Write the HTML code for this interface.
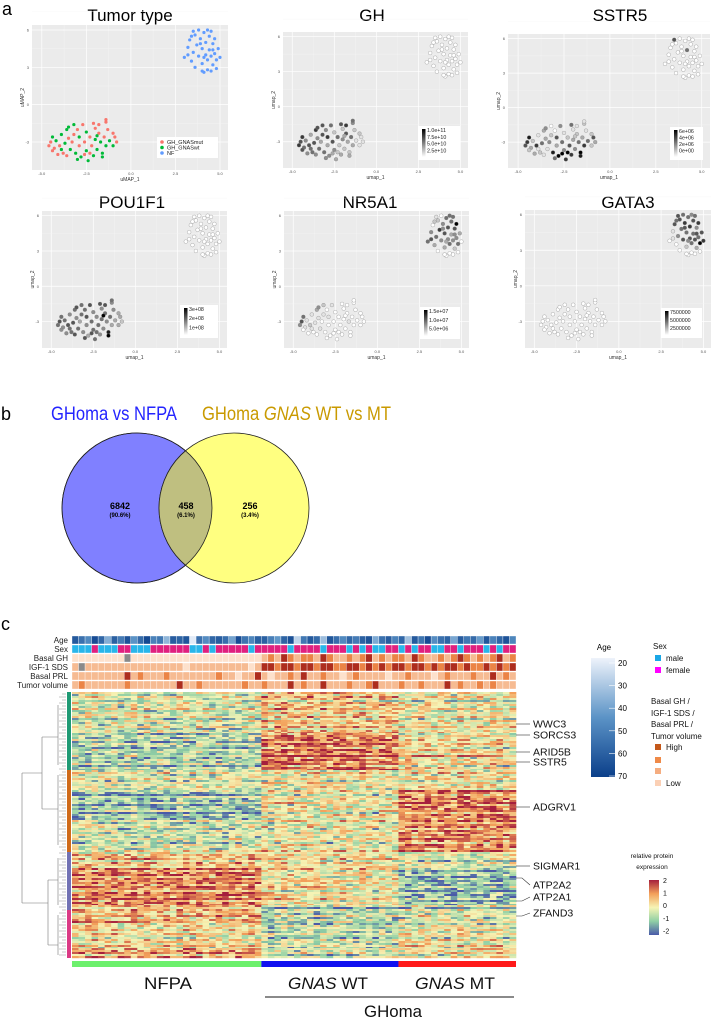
<!DOCTYPE html>
<html><head><meta charset="utf-8"><style>
html,body{margin:0;padding:0;background:#fff;}
svg{display:block;font-family:"Liberation Sans",sans-serif;}
</style></head><body>
<svg id="fig" width="712" height="1019" viewBox="0 0 712 1019" xmlns="http://www.w3.org/2000/svg">
<defs>
<linearGradient id="gBW" x1="0" y1="0" x2="0" y2="1"><stop offset="0" stop-color="#000"/><stop offset="1" stop-color="#fff"/></linearGradient>
<linearGradient id="gAge" x1="0" y1="0" x2="0" y2="1"><stop offset="0" stop-color="#eef3fb"/><stop offset="0.5" stop-color="#5b93c6"/><stop offset="1" stop-color="#0b3f8a"/></linearGradient>
<linearGradient id="gExp" x1="0" y1="0" x2="0" y2="1"><stop offset="0" stop-color="#a51f3d"/><stop offset="0.25" stop-color="#f3a05a"/><stop offset="0.5" stop-color="#f6f4b5"/><stop offset="0.75" stop-color="#8fcfa5"/><stop offset="1" stop-color="#4a5aa8"/></linearGradient>
<clipPath id="vennClip"><circle cx="137" cy="508" r="75"/></clipPath>
</defs>
<text x="2" y="15" font-size="18">a</text>
<text x="1" y="420" font-size="18">b</text>
<text x="1" y="630" font-size="18">c</text>
<g id="umap"></g>
<g id="venn">
<text x="51" y="420" font-size="19" fill="#2424ff" textLength="126" lengthAdjust="spacingAndGlyphs">GHoma vs NFPA</text>
<text x="202" y="420" font-size="19" fill="#c99a00" textLength="189" lengthAdjust="spacingAndGlyphs">GHoma <tspan font-style="italic">GNAS</tspan> WT vs MT</text>
<circle cx="137" cy="508" r="75" fill="#8080ff" stroke="#222" stroke-width="0.8"/>
<circle cx="234" cy="508" r="75" fill="#ffff80" stroke="#222" stroke-width="0.8"/>
<circle cx="234" cy="508" r="75" fill="#bfbf80" stroke="#222" stroke-width="0.8" clip-path="url(#vennClip)"/>
<circle cx="137" cy="508" r="75" fill="none" stroke="#222" stroke-width="0.8"/>
<g font-weight="bold" text-anchor="middle">
<text x="120" y="509" font-size="9">6842</text><text x="120" y="517" font-size="6">(90.6%)</text>
<text x="186" y="509" font-size="9">458</text><text x="186" y="517" font-size="6">(6.1%)</text>
<text x="250" y="509" font-size="9">256</text><text x="250" y="517" font-size="6">(3.4%)</text>
</g>
</g>
<g id="hm"></g>
</svg>
<script>
// ---------- UMAP data ----------
const ghPts=[[-4.6,-3.3],[-4.5,-3.0],[-4.4,-2.6],[-4.3,-3.5],[-4.2,-2.9],[-4.0,-3.3],[-3.9,-2.4],[-3.8,-3.9],[-3.7,-3.1],[-3.6,-2.0],[-3.5,-1.8],[-3.5,-2.7],[-3.4,-3.6],[-3.3,-3.0],[-3.2,-2.4],[-3.1,-3.9],[-3.0,-2.0],[-2.9,-2.6],[-2.9,-3.3],[-2.8,-4.2],[-2.7,-1.6],[-2.6,-3.0],[-2.5,-2.2],[-2.5,-3.7],[-2.4,-4.5],[-2.3,-2.6],[-2.2,-3.3],[-2.1,-1.5],[-2.1,-4.1],[-2.0,-2.8],[-1.9,-3.6],[-1.8,-1.6],[-1.8,-2.3],[-1.7,-3.0],[-1.6,-3.9],[-1.5,-2.6],[-1.4,-1.4],[-1.4,-3.3],[-1.3,-2.0],[-1.2,-2.9],[-1.0,-2.3],[-0.9,-2.6],[-0.8,-3.0],[-1.6,-4.2],[-3.9,-3.6],[-4.1,-4.0],[-2.6,-4.0],[-1.0,-3.3],[-3.2,-1.6],[-2.0,-1.9],[-1.4,-1.2],[-3.0,-4.4],[-2.3,-3.9],[-4.4,-3.7],[-3.6,-4.1],[-1.9,-2.5]];
const ghType=['m','m','w','m','w','m','w','m','w','w','w','m','w','m','m','w','m','w','m','w','m','m','w','w','w','m','m','m','w','w','w','m','m','w','w','m','m','w','m','w','m','m','m','w','w','m','m','w','w','m','m','w','m','m','m','w'];
const nfPts=[[3.0,3.8],[3.2,4.6],[3.3,5.2],[3.4,3.5],[3.5,4.2],[3.6,5.6],[3.6,3.0],[3.7,4.8],[3.8,3.9],[3.8,6.0],[3.9,5.3],[4.0,4.5],[4.0,3.3],[4.1,2.6],[4.1,5.8],[4.2,4.0],[4.2,5.0],[4.3,3.6],[4.3,2.8],[4.4,5.5],[4.4,4.4],[4.5,3.9],[4.5,2.7],[4.6,4.9],[4.6,3.2],[4.7,5.3],[4.7,4.1],[4.8,3.6],[4.9,4.5],[5.0,3.8],[4.0,2.7],[3.5,5.9],[4.3,6.0],[3.2,4.0],[4.8,2.9],[3.9,4.9],[4.5,5.9],[3.4,5.5],[4.1,3.8],[4.6,4.4]];
const geneGH_gh=[7,6,7,5,4,6,3,5,6,7,6,4,5,3,6,5,4,7,3,4,5,6,2,4,3,5,2,6,3,4,2,7,6,3,2,5,4,3,2,1,2,1,1,3,5,4,3,1,6,2,5,4,2,6,4,3];
const geneGH_nf=[0,0,0,0,0,0,0,0,0,0,0,0,0,0,0,0,0,0,0,0,0,0,0,0,0,0,0,0,0,0,0,0,0,0,0,0,0,0,0,0];
const sstr5_gh=[6,7,8,3,2,7,1,2,5,3,4,3,1,4,2,8,0,6,3,9,4,5,1,4,7,2,6,5,7,3,4,1,2,5,9,3,2,7,1,5,2,6,3,8,1,3,9,2,0,1,1,5,9,2,1,2];
const sstr5_nf=[0,0,0,0,0,0,0,0,0,0,0,0,0,0,0,0,5,0,0,0,0,0,0,0,0,0,0,0,0,0,0,6,0,0,0,0,0,0,0,0];
const pou_gh=[5,6,5,4,5,6,4,5,6,5,6,4,5,3,5,4,5,6,4,3,6,5,4,5,5,4,5,6,4,5,4,6,5,4,8,5,4,3,4,3,3,3,2,9,5,4,6,3,5,4,5,6,5,4,6,9];
const pou_nf=[0,0,0,0,0,0,0,0,0,0,0,0,0,0,0,0,0,0,0,0,0,0,0,0,0,0,0,0,0,0,0,0,0,0,0,0,0,0,0,0];
const nr5_gh=[4,6,5,1,1,2,1,0,1,3,4,1,1,0,1,0,0,1,0,0,1,0,0,0,0,0,0,0,0,0,0,0,0,1,0,0,0,0,0,0,0,0,0,0,1,0,0,0,2,0,0,0,0,0,0,0];
const nr5_nf=[5,4,0,3,5,2,0,7,4,0,4,6,3,0,5,4,6,5,0,5,3,4,0,6,2,9,4,5,3,0,0,1,5,6,0,4,5,2,3,4];
const gata_gh=[0,0,0,0,0,0,0,0,0,0,0,0,0,0,0,0,0,0,0,0,0,0,0,0,0,0,0,0,0,0,0,0,0,0,0,0,0,0,0,0,0,0,0,0,0,0,0,0,0,0,0,0,0,0,0,0];
const gata_nf=[0,1,6,0,4,6,0,5,6,5,7,5,2,0,5,6,7,5,0,6,5,6,0,4,3,7,5,9,6,7,0,6,4,1,0,6,5,5,4,6];
const umapXTicks=[-5,-2.5,0,2.5,5];
const umapXTickLabels=['-5.0','-2.5','0.0','2.5','5.0'];
const umapYTicks=[-3,0,3,6];

const NS='http://www.w3.org/2000/svg';
function mk(tag,attrs,parent){const e=document.createElementNS(NS,tag);for(const k in attrs)e.setAttribute(k,attrs[k]);if(parent)parent.appendChild(e);return e;}
function grey(v){const c=Math.round(255*(1-v/9));return `rgb(${c},${c},${c})`;}

const panels=[
 {title:'Tumor type',tx:130,ty:21,x:32,y:25,w:196,h:145,yl:'uMAP_2',xl:'uMAP_1',type:true,leg:[157,137,61,21]},
 {title:'GH',tx:372,ty:21,x:283,y:32,w:185,h:136,yl:'umap_2',xl:'umap_1',gh:geneGH_gh,nf:geneGH_nf,leg:[418,126,42,34],labs:['1.0e+11','7.5e+10','5.0e+10','2.5e+10']},
 {title:'SSTR5',tx:620,ty:21,x:508,y:34,w:202,h:134,yl:'umap_2',xl:'umap_1',gh:sstr5_gh,nf:sstr5_nf,leg:[670,127,33,33],labs:['6e+06','4e+06','2e+06','0e+00']},
 {title:'POU1F1',tx:132,ty:208,x:42,y:211,w:185,h:137,yl:'umap_2',xl:'umap_1',gh:pou_gh,nf:pou_nf,leg:[180,305,38,33],labs:['3e+08','2e+08','1e+08']},
 {title:'NR5A1',tx:370,ty:208,x:284,y:211,w:185,h:137,yl:'umap_2',xl:'umap_1',gh:nr5_gh,nf:nr5_nf,leg:[420,307,40,32],labs:['1.5e+07','1.0e+07','5.0e+06']},
 {title:'GATA3',tx:628,ty:208,x:525,y:210,w:186,h:138,yl:'umap_2',xl:'umap_1',gh:gata_gh,nf:gata_nf,leg:[661,308,41,30],labs:['7500000','5000000','2500000']}
];
const um=document.getElementById('umap');
panels.forEach((p,pi)=>{
  const g=mk('g',{},um);
  
  
  const xs=v=>p.x+(v+5.55)/11*p.w, ys=v=>p.y+(6.4-v)/11.65*p.h;
  const t=mk('text',{x:p.tx,y:p.ty,'font-size':17,'text-anchor':'middle'},g);t.textContent=p.title;
  
  
  mk('rect',{x:p.x,y:p.y,width:p.w,height:p.h,fill:'#ebebeb'},g);
  umapXTicks.forEach((v,i)=>{ if(i<4){const m=xs(v+1.25);mk('line',{x1:m,x2:m,y1:p.y,y2:p.y+p.h,stroke:'#f5f5f5','stroke-width':0.4},g);}
    mk('line',{x1:xs(v),x2:xs(v),y1:p.y,y2:p.y+p.h,stroke:'#fff','stroke-width':0.7},g);
    const l=mk('text',{x:xs(v),y:p.y+p.h+5,'font-size':4,fill:'#555','text-anchor':'middle'},g);l.textContent=umapXTickLabels[i];});
  umapYTicks.forEach(v=>{mk('line',{x1:p.x,x2:p.x+p.w,y1:ys(v),y2:ys(v),stroke:'#fff','stroke-width':0.7},g);
    const m=ys(v+1.5);mk('line',{x1:p.x,x2:p.x+p.w,y1:m,y2:m,stroke:'#f5f5f5','stroke-width':0.4},g);
    const l=mk('text',{x:p.x-3,y:ys(v)+1.5,'font-size':4,fill:'#555','text-anchor':'end'},g);l.textContent=v;});
  const xl=mk('text',{x:p.x+p.w/2,y:p.y+p.h+11,'font-size':5,fill:'#333','text-anchor':'middle'},g);xl.textContent=p.xl;
  const yl=mk('text',{x:0,y:0,'font-size':5,fill:'#333','text-anchor':'middle',transform:`translate(${p.x-8},${p.y+p.h/2}) rotate(-90)`},g);yl.textContent=p.yl;
  const pts=mk('g',{},g);
  
  
  if(p.type){
    const col={m:'#f8766d',w:'#00ba38'};
    ghPts.forEach((q,i)=>mk('circle',{cx:xs(q[0]),cy:ys(q[1]),r:1.6,fill:col[ghType[i]]},pts));
    nfPts.forEach(q=>mk('circle',{cx:xs(q[0]),cy:ys(q[1]),r:1.6,fill:'#619cff'},pts));
    const [lx,ly,lw,lh]=p.leg;
    const lg=mk('g',{},g);
    
    
    mk('rect',{x:lx,y:ly,width:lw,height:lh,fill:'#fff'},lg);
    [['GH_GNASmut','#f8766d'],['GH_GNASwt','#00ba38'],['NF','#619cff']].forEach((e,i)=>{
      mk('circle',{cx:lx+5,cy:ly+5+i*5.5,r:1.8,fill:e[1]},lg);
      const tt=mk('text',{x:lx+10,y:ly+7+i*5.5,'font-size':5.5,fill:'#222'},lg);tt.textContent=e[0];});
  } else {
    ghPts.forEach((q,i)=>mk('circle',{cx:xs(q[0]),cy:ys(q[1]),r:1.9,fill:grey(p.gh[i]),stroke:'#777','stroke-width':0.3},pts));
    nfPts.forEach((q,i)=>mk('circle',{cx:xs(q[0]),cy:ys(q[1]),r:1.9,fill:grey(p.nf[i]),stroke:'#777','stroke-width':0.3},pts));
    const [lx,ly,lw,lh]=p.leg;
    const lg=mk('g',{},g);
    
    
    mk('rect',{x:lx,y:ly,width:lw,height:lh,fill:'#fff'},lg);
    mk('rect',{x:lx+4,y:ly+3,width:3.5,height:lh-6,fill:'url(#gBW)'},lg);
    const n=p.labs.length, step=(lh-10)/(n-0.5);
    p.labs.forEach((s,i)=>{const tt=mk('text',{x:lx+9,y:ly+6+i*step,'font-size':5.3,fill:'#222'},lg);tt.textContent=s;});
  }
});

// ---------- Heatmap data ----------
const groups=['NFPA','GNAS WT','GNAS MT'];
const groupCounts=[29,21,18];
const ages=[62,55,48,66,58,38,60,52,64,45,57,67,50,53,36,61,59,63,22,55,47,58,61,56,41,66,54,49,60, 60,51,44,59,65,28,53,62,57,34,63,56,48,58,52,60,64,39,55,61,50, 58,33,62,54,66,47,55,59,40,61,53,57,43,63,50,58,64,49];
const sex=['m','m','m','f','m','m','m','f','f','m','m','m','f','f','f','f','f','f','m','m','f','m','f','f','f','f','f','m','f', 'f','f','f','f','m','f','f','f','f','m','f','f','f','m','f','m','f','m','m','f','f', 'm','f','m','f','f','m','m','f','f','m','f','f','f','m','f','m','f','f'];
const basalGH=[0,0,0,0,0,0,0,0,-1,0,0,0,0,0,0,0,0,0,0,0,0,0,0,0,0,0,0,0,0, 1,2,1,3,2,1,2,2,1,3,2,1,1,2,1,2,3,1,2,1,2, 2,1,3,2,1,1,2,1,2,3,2,1,2,1,2,3,1,2];
const igf=[1,-1,1,1,1,1,1,1,1,1,1,1,1,1,1,1,1,0,1,1,1,1,1,1,1,1,1,0,1, 3,3,2,3,3,2,3,3,2,3,3,2,2,3,3,2,3,2,3,2,3, 3,2,3,3,2,3,2,3,3,2,3,2,2,3,2,3,2,3];
const prl=[1,1,1,1,1,1,1,1,3,1,2,1,1,1,2,1,1,1,1,1,1,1,2,1,1,0,1,1,3, 1,0,1,1,2,1,3,1,1,2,1,1,0,1,2,1,1,1,1,0,1, 1,2,1,1,1,0,1,2,1,1,1,2,1,1,3,1,2,1];
const tvol=[1,2,1,1,1,1,1,1,2,1,1,1,1,1,1,1,3,1,1,2,1,1,1,1,1,1,2,1,1, 2,1,1,1,3,1,2,1,1,3,1,1,1,2,1,1,2,3,1,1,1, 2,1,1,2,1,1,1,3,1,2,1,1,2,1,2,1,1,1];
const blockH=[41,37,20,30,32,16,37,20,23,10];
const blockNFPA=[-0.3,-0.7,-0.2,-1.0,-0.4,0.6,1.1,0.6,0.2,0.9];
const blockWT=[0.5,1.2,0.0,0.0,0.0,0.2,0.1,-0.6,-0.5,-0.3];
const blockMT=[0.0,0.2,0.2,1.2,1.0,-0.3,-1.0,-0.3,0.0,0.1];
const rowStripe=[0.3,-0.4,0.6,0.0,-0.9,0.4,0.1,-0.2,0.8,-0.6,0.2,-0.1,0.5,-1.0,0.3,0.0,-0.3,0.7,-0.5,0.1,0.4,-0.7,0.2,-0.2];
const cellNoise=[0.4,-0.6,0.1,0.9,-0.3,-1.1,0.5,0.0,-0.4,1.0,-0.8,0.2,0.6,-0.2,-0.9,0.3,0.8,-0.5,0.0,-1.2,0.7,0.1,-0.3,0.5,-0.7,1.1,-0.1,0.3,-0.6,0.6,-0.4,0.2,0.9,-1.0,0.0,0.4,-0.2];
const colOffset=[0.2,-0.3,0.1,0.4,-0.2,0.0,0.3,-0.5,0.1,0.2,-0.1,0.3,-0.4,0.0,0.2,-0.6,0.1,0.3,-0.2,0.4,0.0,-0.3,0.2,-0.1,0.1,0.3,-0.2,0.5,0.0, 0.3,-0.2,0.1,0.4,0.0,-0.3,0.2,0.5,-0.1,0.1,-0.4,0.2,0.3,0.0,-0.2,0.4,0.1,-0.5,0.2,0.0,-0.1, 0.0,0.3,-0.2,0.1,0.4,-0.3,0.2,0.0,-0.4,0.3,0.1,-0.2,0.2,-0.1,0.3,0.0,-0.3,0.1];
const ageTicks=[20,30,40,50,60,70];
const expTicks=[2,1,0,-1,-2];
const geneLabels=['WWC3','SORCS3','ARID5B','SSTR5','ADGRV1','SIGMAR1','ATP2A2','ATP2A1','ZFAND3'];
const geneRowY=[724,735,752,762,807,866,878,901,916];

function lerp(a,b,t){return a+(b-a)*t;}
function hex(h){return [parseInt(h.slice(1,3),16),parseInt(h.slice(3,5),16),parseInt(h.slice(5,7),16)];}
const expStops=[[-2,'#4a5aa8'],[-1,'#8fcfa5'],[0,'#f6f4b5'],[1,'#f3a05a'],[2,'#a51f3d']];
function expCol(v){v=Math.max(-2,Math.min(2,v));for(let i=0;i<4;i++){const a=expStops[i],b=expStops[i+1];if(v<=b[0]){const t=(v-a[0])/(b[0]-a[0]);const A=hex(a[1]),B=hex(b[1]);return `rgb(${A.map((x,k)=>Math.round(lerp(x,B[k],t))).join(',')})`;}}}
function ageCol(a){const t=(a-20)/50;const s=[[0,'#eef3fb'],[0.5,'#5b93c6'],[1,'#0b3f8a']];const [p0,p1]=t<0.5?[s[0],s[1]]:[s[1],s[2]];const u=(t-p0[0])/(p1[0]-p0[0]);const A=hex(p0[1]),B=hex(p1[1]);return `rgb(${A.map((x,k)=>Math.round(lerp(x,B[k],u))).join(',')})`;}
const lvlCol=['#fde1cc','#f6bb92','#eb8446','#ad2d1e'];
function lc(v){return v<0?'#8a8a8a':lvlCol[v];}

const hm=document.getElementById('hm');
const X0=72,X1=516,nC=groupCounts.reduce((a,b)=>a+b,0),cw=(X1-X0)/nC;
const colX=c=>X0+c*cw;
const annRows=[['Age',a=>ageCol(a),ages],['Sex',s=>s==='m'?'#29b6ea':'#e0207f',sex],['Basal GH',lc,basalGH],['IGF-1 SDS',lc,igf],['Basal PRL',lc,prl],['Tumor volume',lc,tvol]];
const annY=[636,645,654,663,672,681];
annRows.forEach((r,ri)=>{
  const g=mk('g',{},hm);
  
  
  const t=mk('text',{x:68,y:annY[ri]+7,'font-size':8,'text-anchor':'end',fill:'#222'},g);t.textContent=r[0];
  r[2].forEach((v,c)=>mk('rect',{x:colX(c),y:annY[ri],width:cw,height:8,fill:r[1](v),stroke:'#fff','stroke-width':0.35},g));
});
const cells=mk('g',{},hm);


const gIdx=c=>c<groupCounts[0]?0:(c<groupCounts[0]+groupCounts[1]?1:2);
let y=692,ri=0;const rh=2;
blockH.forEach((h,b)=>{
  const means=[blockNFPA[b],blockWT[b],blockMT[b]];
  for(let yy=0;yy<h;yy+=rh){
    const s=rowStripe[ri%rowStripe.length];
    for(let c=0;c<nC;c++){
      const n=cellNoise[(ri*5+c*3+((ri*c)%7))%cellNoise.length];
      const v=means[gIdx(c)]+s*0.8+n*0.9+colOffset[c]*0.4;
      mk('rect',{x:colX(c),y:y+yy,width:cw+0.3,height:Math.min(rh,h-yy)+0.2,fill:expCol(v)},cells);
    }
    ri++;
  }
  y+=h;
});
[[692,770,'#1f9a74'],[770,852,'#cf6a1a'],[852,910,'#7272b4'],[910,958,'#db3a85']].forEach(s=>{
  const r=mk('rect',{x:67,y:s[0],width:4,height:s[1]-s[0],fill:s[2]},hm);
  
  
});
const dg=mk('g',{stroke:'#777','stroke-width':0.6,fill:'none'},hm);


mk('path',{d:'M22,773 V903 M22,773 H42 M22,903 H48 M42,737 V809 M42,737 H58 M42,809 H58 M48,880 V945 M48,880 H58 M48,945 H58 M58,705 V765 M58,775 V845 M58,858 V905 M58,915 V955'},dg);
for(let yy=694;yy<958;yy+=3){mk('line',{x1:58+((yy*7)%6),x2:66,y1:yy,y2:yy,'stroke-width':0.4},dg);}
const gc=['#6cf06c','#1010f0','#ff1a1a'];let cs=0;
groupCounts.forEach((n,i)=>{const r=mk('rect',{x:colX(cs),y:961,width:n*cw,height:6,fill:gc[i]},hm);
  
  cs+=n;});
const gl=mk('g',{'font-size':17,'text-anchor':'middle',fill:'#111'},hm);


gl.innerHTML='<text x="168" y="989" textLength="48" lengthAdjust="spacingAndGlyphs">NFPA</text><text x="328" y="989" textLength="80" lengthAdjust="spacingAndGlyphs"><tspan font-style="italic">GNAS</tspan> WT</text><text x="455" y="989" textLength="80" lengthAdjust="spacingAndGlyphs"><tspan font-style="italic">GNAS</tspan> MT</text><line x1="265" y1="997" x2="514" y2="997" stroke="#444" stroke-width="1.3"/><text x="393" y="1017" textLength="58" lengthAdjust="spacingAndGlyphs">GHoma</text>';
const gg=mk('g',{'font-size':10.5,fill:'#111'},hm);


const labY=[724,735,752,762,807,866,885,897,913];
geneLabels.forEach((s,i)=>{mk('path',{d:`M516,${geneRowY[i]} L522,${geneRowY[i]} L530,${labY[i]}`,stroke:'#333','stroke-width':0.6,fill:'none'},gg);
  const t=mk('text',{x:533,y:labY[i]+3.5},gg);t.textContent=s;});
const al=mk('g',{},hm);


al.innerHTML='<text x="604" y="650" font-size="8" text-anchor="middle">Age</text><rect x="591" y="658" width="24" height="119" fill="url(#gAge)"/>';
ageTicks.forEach(a=>{const yy=658+5+(a-20)/50*113;mk('line',{x1:609,x2:615,y1:yy,y2:yy,stroke:'#fff','stroke-width':0.6},al);const t=mk('text',{x:618,y:yy+3,'font-size':8},al);t.textContent=a;});
const sl=mk('g',{'font-size':8,fill:'#111'},hm);


sl.innerHTML='<text x="653" y="649">Sex</text><rect x="655" y="655" width="6" height="6" fill="#1aa7e6"/><text x="666" y="661">male</text><rect x="655" y="667" width="6" height="6" fill="#ff00ff"/><text x="666" y="673">female</text>'+
'<text x="651" y="704">Basal GH /</text><text x="651" y="716">IGF-1 SDS /</text><text x="651" y="727">Basal PRL /</text><text x="651" y="739">Tumor volume</text>'+
'<rect x="655" y="744" width="6" height="6" fill="#c4581a"/><text x="666" y="750">High</text><rect x="655" y="757" width="6" height="6" fill="#ef8a48"/><rect x="655" y="768" width="6" height="6" fill="#f5ad80"/><rect x="655" y="780" width="6" height="6" fill="#fbd0b5"/><text x="666" y="786">Low</text>';
const el=mk('g',{'font-size':6.5,fill:'#111'},hm);


el.innerHTML='<text x="652" y="858" text-anchor="middle">relative protein</text><text x="652" y="869" text-anchor="middle">expression</text><rect x="649" y="880" width="10" height="55" fill="url(#gExp)"/>';
expTicks.forEach((v,i)=>{const t=mk('text',{x:663,y:883+i*12.6,'font-size':7},el);t.textContent=v;});
</script>
</body></html>
